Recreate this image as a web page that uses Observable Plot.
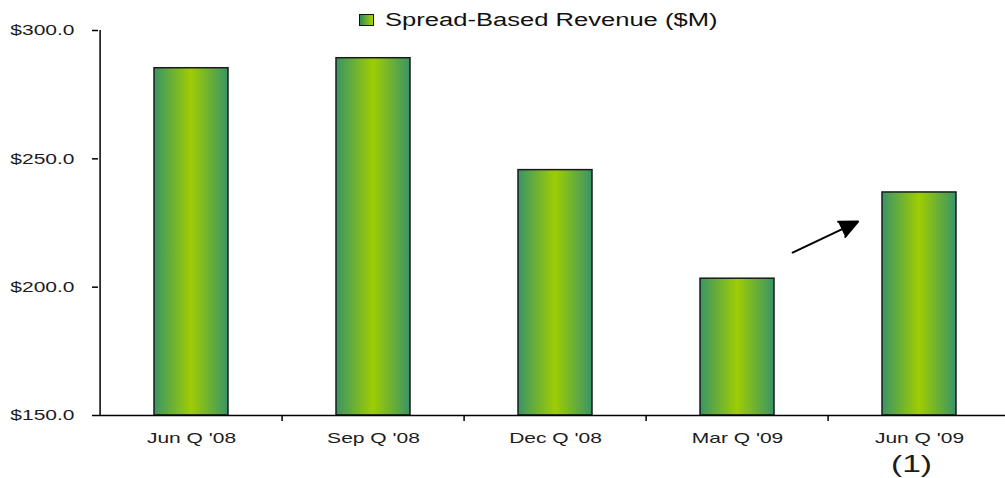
<!DOCTYPE html>
<html>
<head>
<meta charset="utf-8">
<script src="https://cdn.jsdelivr.net/npm/d3@7"></script>
<script src="https://cdn.jsdelivr.net/npm/@observablehq/plot@0.6"></script>
<style>
  html, body { margin: 0; padding: 0; background: #fff; }
  #wrap { position: relative; width: 1005px; height: 478px; overflow: hidden; font-family: "Liberation Sans", Arial, sans-serif; color: #000; }
  #legend { position: absolute; left: 359px; top: 0; height: 30px; width: 420px; }
  #legend .sw { position: absolute; left: 0; top: 14px; width: 13px; height: 10px; border: 1px solid #111; background: linear-gradient(to right, #2f8b57, #a8d400); }
  #legend .lt { position: absolute; left: 26px; top: 10.5px; font-size: 18px; line-height: 18px; white-space: nowrap; transform: scaleX(1.42); transform-origin: 0 50%; color: #111; }
</style>
</head>
<body>
<div id="wrap">
  <div id="legend"><span class="sw"></span><span class="lt"></span></div>
</div>
<script>
// ---- data ----
const categories = ["Jun Q '08", "Sep Q '08", "Dec Q '08", "Mar Q '09", "Jun Q '09"];
const revenue = [285.3, 289.2, 245.6, 203.3, 236.9];
const yTicks = [150, 200, 250, 300];
const legendLabel = "Spread-Based Revenue ($M)";
const footnotes = [{category: "Jun Q '09", text: "(1)"}];
const arrows = [{from: "Mar Q '09", to: "Jun Q '09"}];

// ---- derived table ----
const table = categories.map((c, i) => ({category: c, value: revenue[i]}));
const valueOf = Object.fromEntries(table.map(d => [d.category, d.value]));

const W = 1005, H = 478;
const x0 = 98, x1 = 1012;
const step = (x1 - x0) / categories.length;

document.querySelector("#legend .lt").textContent = legendLabel;

const plot = Plot.plot({
  width: W,
  height: H,
  marginLeft: x0,
  marginRight: 0,
  marginTop: 30,
  marginBottom: 63,
  style: {fontFamily: '"Liberation Sans", Arial, sans-serif', fontSize: "15px", color: "#000", background: "transparent", overflow: "visible"},
  x: {type: "band", domain: categories, range: [x0, x1], padding: 0},
  y: {domain: [150, 300]},
  marks: [
    Plot.barY(table, {x: "category", y1: 150, y2: "value", fill: "url(#barGrad)", stroke: "#1a1a1a", strokeWidth: 1.5, insetLeft: 54, insetRight: 54}),
    Plot.ruleY([150], {stroke: "#000", strokeWidth: 1.5}),
    Plot.ruleX(categories.slice(0, 1), {x: d => d, dx: -step / 2, stroke: "#000", strokeWidth: 1.5}),
    Plot.ruleX(categories.slice(1), {x: d => d, dx: -step / 2, y1: 150, y2: 150, insetBottom: -6, stroke: "#000", strokeWidth: 1.5}),
    Plot.axisY({ticks: yTicks, tickSize: 6, tickPadding: 18, tickFormat: d => "$" + d.toFixed(1), label: null, strokeWidth: 1.5, fill: "#1c1c1c"}),
    Plot.axisX({tickSize: 0, tickPadding: 17, label: null, fill: "#1c1c1c"}),
    Plot.text(footnotes, {x: "category", text: "text", frameAnchor: "bottom", dy: 56, dx: -8, fontSize: 24, fill: "#1c1c1c", ariaLabel: "footnote"}),
    Plot.arrow(arrows, {
      x1: "from", y1: d => valueOf[d.from],
      x2: "to", y2: d => valueOf[d.to],
      insetStart: 61, insetEnd: 68,
      stroke: "#000", fill: "#000", strokeWidth: 2,
      headLength: 15, headAngle: 50, strokeLinejoin: "miter"
    })
  ]
});

document.getElementById("wrap").appendChild(plot);
const svg = d3.select(plot);

// bar gradient
const defs = svg.insert("defs", ":first-child");
const lg = defs.append("linearGradient").attr("id", "barGrad")
  .attr("x1", "0").attr("x2", "1").attr("y1", "0").attr("y2", "0");
[[0, "#3a9466"], [0.5, "#9ecd03"], [1, "#3a9466"]].forEach(([o, c]) =>
  lg.append("stop").attr("offset", o).attr("stop-color", c));

// horizontally widened lettering, as in the reference
svg.selectAll("text").each(function () {
  const g = this.closest("[aria-label]");
  const k = g && g.getAttribute("aria-label") === "footnote" ? 1.15 : 1.4;
  const w = this.getComputedTextLength();
  this.setAttribute("textLength", w * k);
  this.setAttribute("lengthAdjust", "spacingAndGlyphs");
});
</script>
</body>
</html>
